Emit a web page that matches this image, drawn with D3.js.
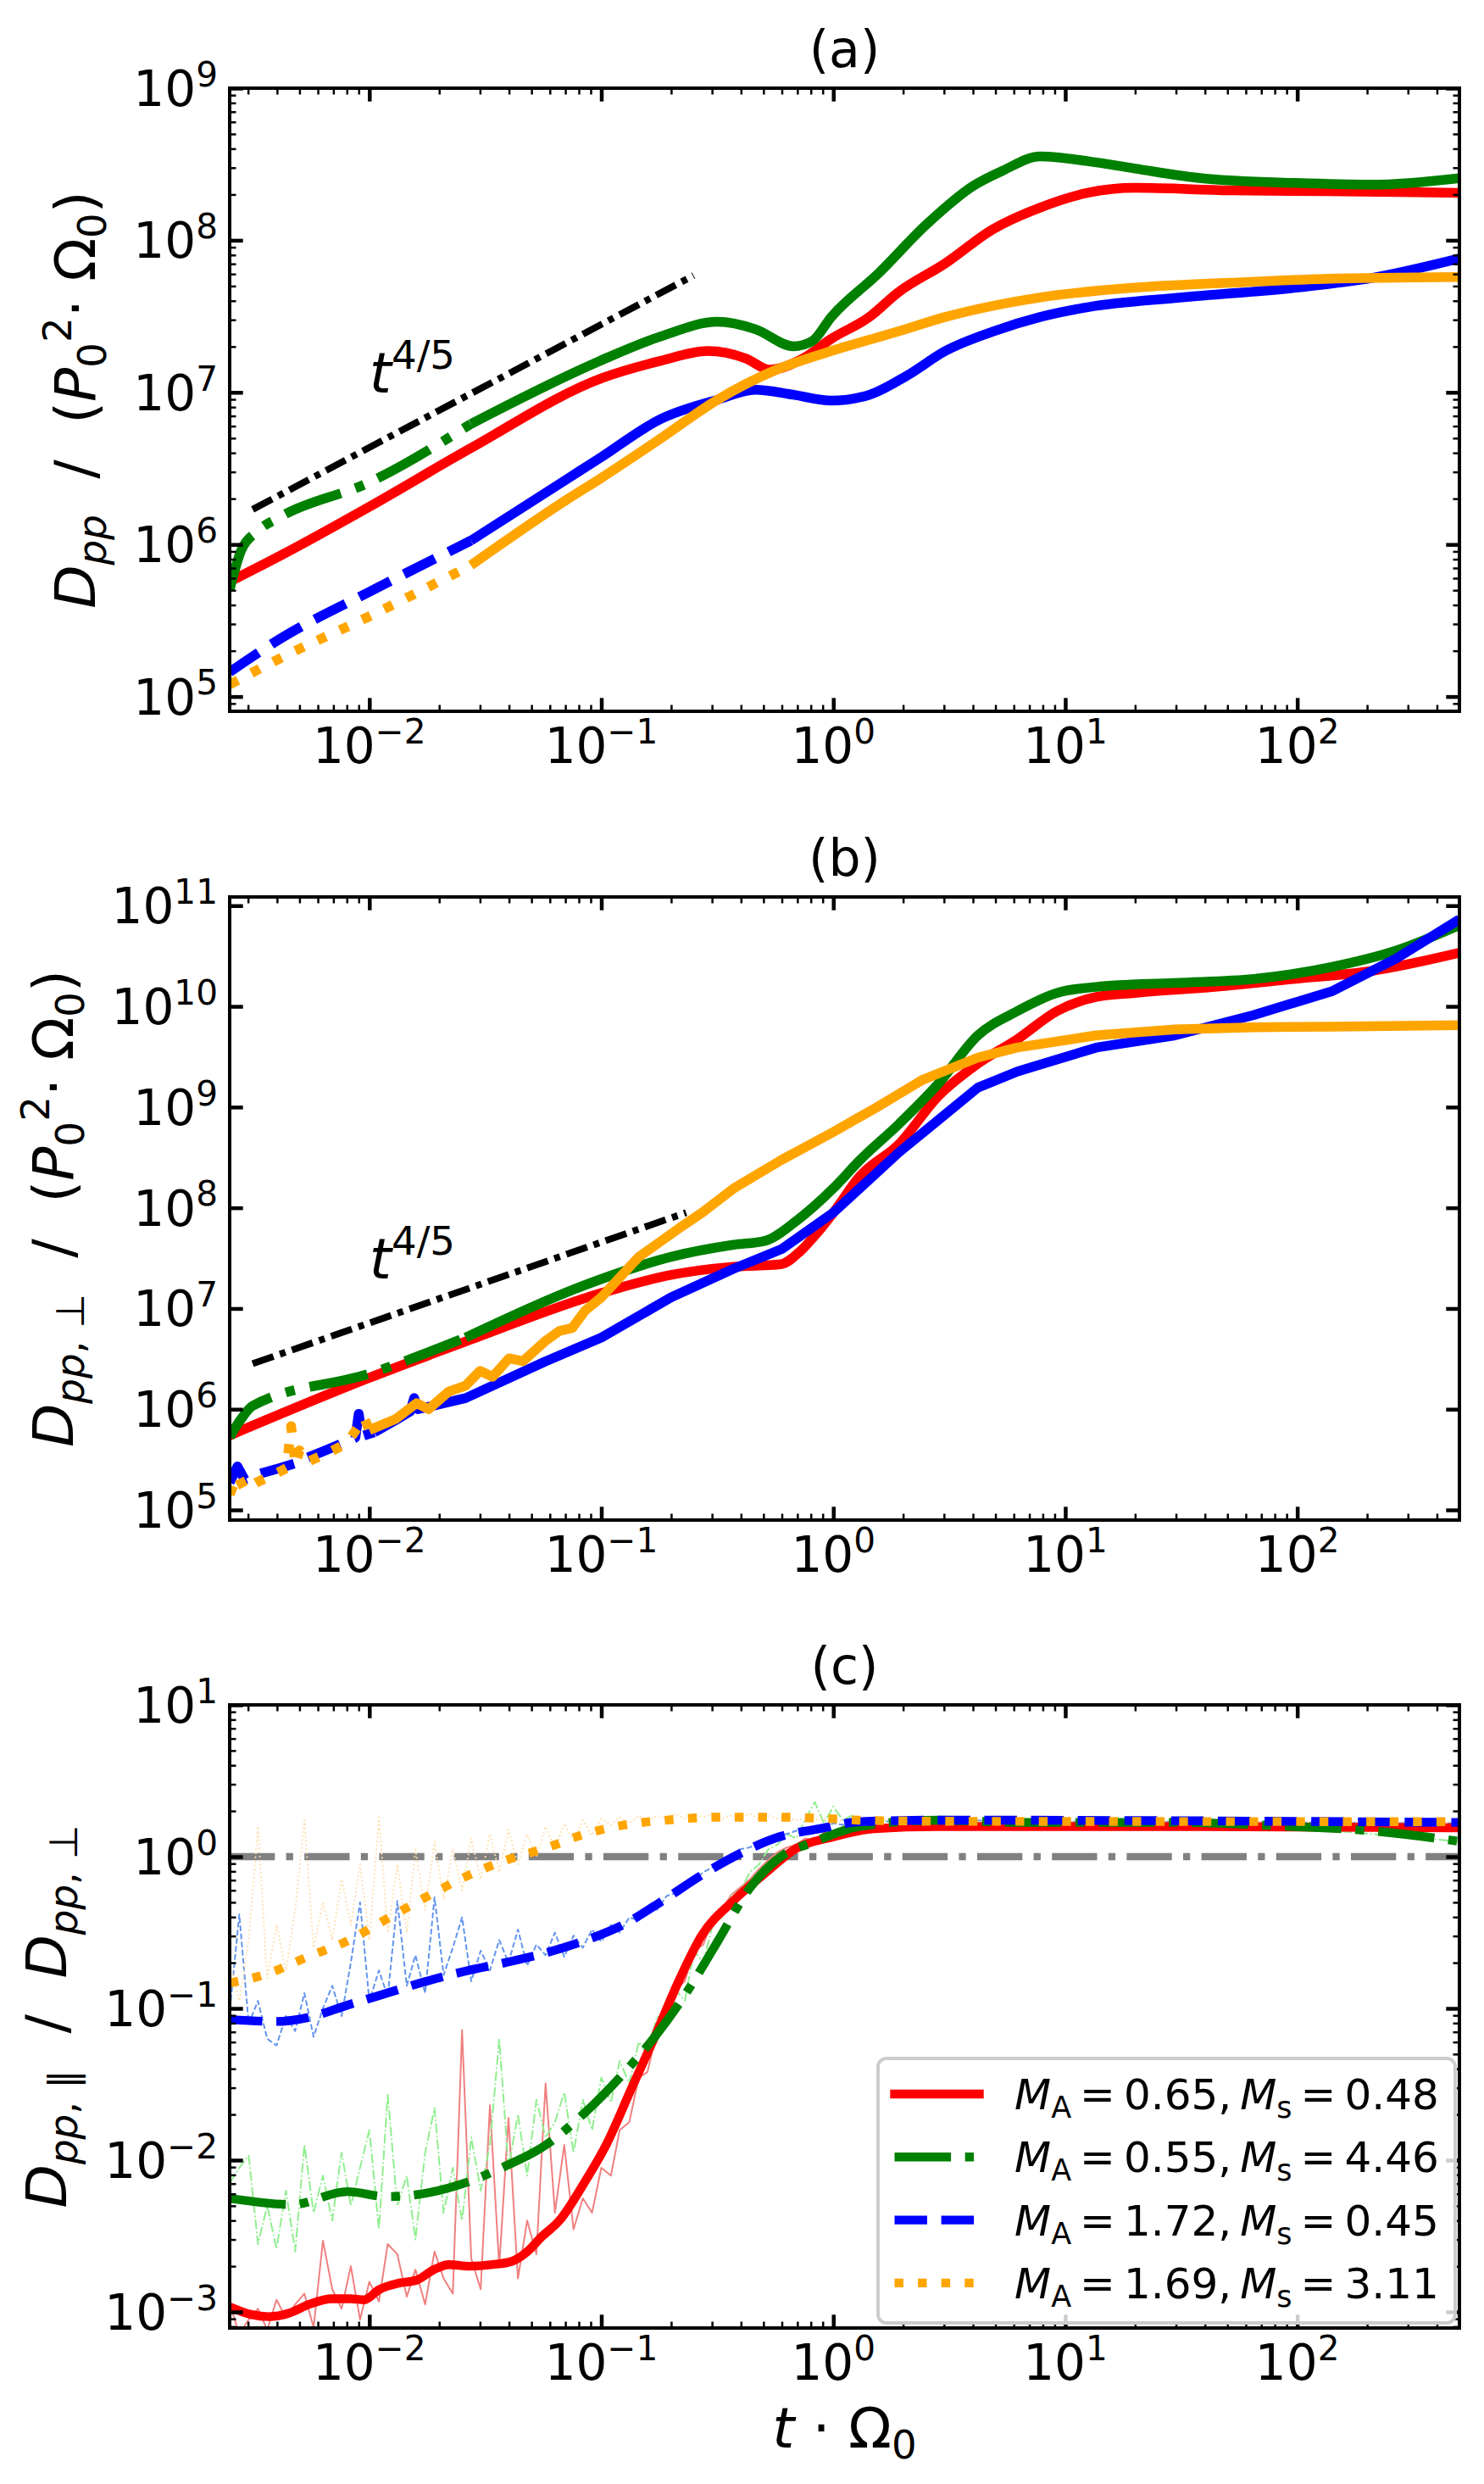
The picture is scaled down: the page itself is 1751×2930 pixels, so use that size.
<!DOCTYPE html>
<html>
<head>
<meta charset="utf-8">
<script src="https://cdn.jsdelivr.net/npm/d3@7/dist/d3.min.js"></script>
<style>
body{margin:0;background:#fff;}
text{font-family:"DejaVu Sans",sans-serif;white-space:pre;}
</style>
</head>
<body>
<div id="chart"></div>
<script>
// tick values
var xMajor = [1e-2, 1e-1, 1, 10, 100];
var yMajorA = [1e5, 1e6, 1e7, 1e8, 1e9];
var yMajorB = [1e5, 1e6, 1e7, 1e8, 1e9, 1e10, 1e11];
var yMajorC = [1e-3, 1e-2, 1e-1, 1, 10];

// legend: [M_A, M_s]
var machs = [['0.65', '0.48'], ['0.55', '4.46'], ['1.72', '0.45'], ['1.69', '3.11']];

// (a) D_pp, pairs [t, value]
var aRed = [[0.0025,5.7e5],[0.00417,8.5e5],[0.01,1.77e6],[0.0274,4.3e6],[0.102,1.25e7],[0.18,1.61e7],[0.288,1.87e7],[0.42,1.67e7],[0.532,1.41e7],[0.74,1.67e7],[0.98,2.25e7],[1.43,3.13e7],[1.9,4.53e7],[3.04,7.05e7],[4.87,1.18e8],[7.8,1.64e8],[12.5,2.05e8],[20,2.21e8],[51,2.13e8],[131,2.1e8],[500,2.05e8]];
var aGreen = [[0.0025,5.06e5],[0.0028,9.1e5],[0.00329,1.22e6],[0.00417,1.53e6],[0.01,2.56e6],[0.0274,6.2e6],[0.0986,1.61e7],[0.18,2.33e7],[0.317,2.91e7],[0.462,2.6e7],[0.673,2.01e7],[0.81,2.17e7],[0.98,3.13e7],[1.57,6.08e7],[2.52,1.27e8],[4.03,2.29e8],[5.35,2.86e8],[7.8,3.56e8],[12.5,3.31e8],[20,2.96e8],[38.6,2.56e8],[99,2.38e8],[210,2.32e8],[500,2.56e8]];
var aBlue = [[0.0025,1.45e5],[0.00417,2.42e5],[0.01,4.88e5],[0.0274,1.06e6],[0.0703,2.66e6],[0.0986,3.7e6],[0.18,6.67e6],[0.317,8.95e6],[0.462,1.04e7],[0.673,9.64e6],[0.98,8.83e6],[1.43,9.64e6],[2.08,1.29e7],[3.04,1.87e7],[4.87,2.51e7],[7.8,3.13e7],[12.5,3.63e7],[32,4.21e7],[99,4.88e7],[210,5.65e7],[500,7.59e7]];
var aOrange = [[0.0025,1.2e5],[0.00417,1.8e5],[0.01,3.37e5],[0.0274,7.3e5],[0.0703,1.95e6],[0.0986,2.7e6],[0.18,4.97e6],[0.317,8.95e6],[0.557,1.39e7],[0.98,1.87e7],[1.9,2.51e7],[3.04,3.13e7],[7.8,4.21e7],[20,4.88e7],[51,5.25e7],[131,5.57e7],[500,5.73e7]];
var aRef = [[0.00314,1.7e6],[0.25,5.87e7]];

// (b) D_pp,perp
var bRed = [[0.0025,5.5e5],[0.01,2.05e6],[0.026,4.7e6],[0.0998,1.42e7],[0.199,2.15e7],[0.372,2.6e7],[0.594,2.75e7],[0.72,3.7e7],[0.85,5.6e7],[1.0,8.95e7],[1.3,2.05e8],[1.92,4.29e8],[2.84,1.29e9],[4.2,2.7e9],[6.2,4.7e9],[9.2,8.95e9],[13.6,1.24e10],[20,1.36e10],[44,1.56e10],[96,1.87e10],[210,2.25e10],[500,3.4e10]];
var bGreen = [[0.0025,5.3e5],[0.0028,8.0e5],[0.00314,1.08e6],[0.01,2.25e6],[0.026,5.15e6],[0.0998,1.96e7],[0.199,3.25e7],[0.372,4.29e7],[0.508,4.7e7],[0.695,7.45e7],[1.0,1.56e8],[1.3,2.96e8],[1.92,6.8e8],[2.84,1.71e9],[4.2,5.15e9],[6.2,8.95e9],[9.2,1.36e10],[13.6,1.56e10],[29.7,1.71e10],[65,1.87e10],[142,2.47e10],[265,3.56e10],[500,6.4e10]];
var bBlue = [[0.0025,1.87e5],[0.0027,2.7e5],[0.0029,2.0e5],[0.0034,2.3e5],[0.0041,2.6e5],[0.0048,2.9e5],[0.0054,3.3e5],[0.0063,3.8e5],[0.0075,4.5e5],[0.0087,5.2e5],[0.009,9.0e5],[0.0093,5.4e5],[0.0105,5.9e5],[0.013,7.8e5],[0.015,9.5e5],[0.0156,1.29e6],[0.0162,1.0e6],[0.026,1.29e6],[0.057,2.96e6],[0.1,5.15e6],[0.2,1.29e7],[0.37,2.47e7],[0.6,3.9e7],[1.0,8.95e7],[1.3,1.56e8],[1.92,3.56e8],[2.84,7.45e8],[4.2,1.56e9],[6.2,2.25e9],[9.2,2.96e9],[13.6,3.9e9],[29.7,5.15e9],[65,8.2e9],[142,1.42e10],[265,2.96e10],[500,7.3e10]];
var bOrange = [[0.0025,1.42e5],[0.0027,2.2e5],[0.0029,1.6e5],[0.0033,1.9e5],[0.0038,2.2e5],[0.0044,2.6e5],[0.0046,6.8e5],[0.0048,2.8e5],[0.005,3.9e5],[0.0054,3.0e5],[0.0065,3.6e5],[0.008,4.6e5],[0.0095,8.2e5],[0.01,6.2e5],[0.013,8.0e5],[0.016,1.15e6],[0.018,1.0e6],[0.022,1.5e6],[0.026,1.71e6],[0.03,2.4e6],[0.034,2.1e6],[0.04,3.2e6],[0.046,3.0e6],[0.057,4.7e6],[0.066,6.0e6],[0.075,6.4e6],[0.085,9.5e6],[0.1,1.29e7],[0.145,3.25e7],[0.215,6.2e7],[0.272,8.95e7],[0.372,1.56e8],[0.594,2.96e8],[1.0,5.65e8],[1.52,9.8e8],[2.43,1.87e9],[4.2,3.1e9],[6.2,3.9e9],[13.6,5.15e9],[29.7,5.9e9],[65,6.2e9],[142,6.3e9],[500,6.5e9]];
var bRef = [[0.00314,2.83e6],[0.232,8.95e7]];

// (c) ratio, raw samples share one time grid
var rawT = [0.00251,0.00275,0.00302,0.00331,0.00363,0.00398,0.00437,0.00479,0.00525,0.00575,
  0.00631,0.00692,0.00759,0.00832,0.00912,0.0100,0.0110,0.0120,0.0132,0.0145,
  0.0158,0.0174,0.0191,0.0209,0.0229,0.0251,0.0275,0.0302,0.0331,0.0363,
  0.0398,0.0437,0.0479,0.0525,0.0575,0.0631,0.0692,0.0759,0.0832,0.0912,
  0.100,0.110,0.120,0.132,0.145,0.158,0.174,0.191,0.209,0.229,
  0.251,0.275,0.302,0.331,0.363,0.398,0.437,0.479,0.525,0.575,
  0.631,0.692,0.759,0.832,0.912,1.00,1.10,1.20,1.32,1.45,
  1.58,3.16,10,31.6,100,500];
var rawRed = [1.12e-3,7.1e-4,8.9e-4,1.05e-3,7.6e-4,1.2e-3,9.1e-4,1.12e-3,1.32e-3,7.9e-4,
  2.95e-3,1.41e-3,1.05e-3,2.0e-3,8.9e-4,1.58e-3,1.17e-3,2.8e-3,2.4e-3,1.26e-3,
  1.9e-3,1.12e-3,2.5e-3,1.66e-3,1.32e-3,7.2e-2,2.24e-3,1.41e-3,2.3e-2,2.0e-3,
  1.9e-2,1.66e-3,4.0e-3,2.4e-3,3.2e-2,4.5e-3,1.26e-2,3.5e-3,5.6e-3,4.5e-3,
  8.9e-3,7.9e-3,1.58e-2,1.78e-2,3.5e-2,3.8e-2,7.1e-2,7.6e-2,0.132,0.151,
  0.24,0.263,0.38,0.45,0.56,0.63,0.71,0.83,0.95,1.07,
  1.15,1.2,1.32,1.26,1.45,1.38,1.58,1.48,1.66,1.55,
  1.62,1.58,1.55,1.6,1.58,1.55];
var rawGreen = [7.1e-3,8.9e-3,1.07e-2,2.8e-3,5.0e-3,2.6e-3,6.3e-3,2.5e-3,1.26e-2,4.5e-3,
  7.9e-3,4.0e-3,1.12e-2,5.0e-3,8.9e-3,1.58e-2,3.5e-3,2.7e-2,5.0e-3,7.9e-3,
  3.0e-3,1.12e-2,2.2e-2,4.5e-3,8.9e-3,4.0e-3,1.41e-2,6.3e-3,1.26e-2,6.3e-2,
  8.9e-3,2.0e-2,7.9e-3,2.5e-2,1.41e-2,1.78e-2,2.8e-2,1.12e-2,2.5e-2,1.58e-2,
  3.5e-2,2.4e-2,4.5e-2,3.2e-2,6.0e-2,5.0e-2,8.9e-2,7.6e-2,0.132,0.112,
  0.24,0.2,0.355,0.4,0.56,0.6,0.79,0.89,1.12,1.2,
  1.41,1.32,1.78,2.29,1.66,2.14,1.74,1.86,1.66,1.78,
  1.7,1.74,1.7,1.66,1.55,1.26];
var rawBlue = [0.1,0.417,0.079,0.112,0.063,0.057,0.089,0.071,0.126,0.065,
  0.1,0.141,0.089,0.2,0.5,0.112,0.178,0.12,0.51,0.141,
  0.224,0.126,0.54,0.166,0.251,0.398,0.151,0.24,0.178,0.282,
  0.2,0.331,0.191,0.263,0.224,0.316,0.219,0.302,0.251,0.331,
  0.275,0.355,0.316,0.398,0.38,0.468,0.447,0.55,0.575,0.66,
  0.69,0.79,0.85,0.95,1.02,1.12,1.15,1.26,1.29,1.38,
  1.41,1.48,1.51,1.58,1.55,1.66,1.62,1.7,1.66,1.74,
  1.7,1.74,1.7,1.7,1.68,1.66];
var rawOrange = [0.2,0.112,0.282,1.58,0.158,0.355,0.178,0.447,1.74,0.251,
  0.5,0.282,0.71,0.355,0.89,0.282,1.82,0.316,0.89,0.316,
  1.12,0.447,1.26,0.525,1.12,0.6,1.32,0.71,1.41,0.79,
  1.51,0.89,1.41,1.0,1.58,1.12,1.66,1.26,1.74,1.38,
  1.78,1.62,1.82,1.66,1.86,1.74,1.86,1.78,1.91,1.78,
  1.86,1.82,1.91,1.78,1.86,1.82,1.91,1.78,1.86,1.78,
  1.82,1.74,1.78,1.74,1.78,1.7,1.74,1.7,1.74,1.7,
  1.74,1.7,1.7,1.7,1.7,1.7];
// smoothed ratios
var cRed = [[0.0025,1.08e-3],[0.0031,9.6e-4],[0.0037,9.3e-4],[0.0045,9.8e-4],[0.0055,1.12e-3],[0.0069,1.22e-3],[0.0083,1.22e-3],[0.0095,1.2e-3],[0.011,1.4e-3],[0.0135,1.55e-3],[0.016,1.62e-3],[0.019,1.9e-3],[0.022,2.05e-3],[0.027,2.0e-3],[0.034,2.05e-3],[0.041,2.15e-3],[0.048,2.5e-3],[0.055,3.1e-3],[0.066,4.0e-3],[0.084,7.0e-3],[0.106,1.3e-2],[0.134,2.9e-2],[0.17,6.5e-2],[0.215,0.15],[0.27,0.30],[0.37,0.51],[0.51,0.78],[0.69,1.13],[1.0,1.35],[1.5,1.53],[2.8,1.58],[30,1.58],[500,1.55]];
var cGreen = [[0.0025,5.6e-3],[0.00465,5.1e-3],[0.00804,6.2e-3],[0.0119,5.75e-3],[0.0163,5.95e-3],[0.026,7.1e-3],[0.0384,9.1e-3],[0.0568,1.24e-2],[0.0839,2.02e-2],[0.124,3.7e-2],[0.17,6.5e-2],[0.232,0.126],[0.318,0.278],[0.435,0.617],[0.594,1.0],[0.813,1.24],[1.3,1.58],[2.84,1.74],[6.2,1.68],[29.5,1.68],[95.5,1.58],[209,1.48],[500,1.26]];
var cBlue = [[0.0025,8.45e-2],[0.00397,8.2e-2],[0.00543,8.7e-2],[0.00804,0.105],[0.0119,0.126],[0.0176,0.151],[0.026,0.176],[0.0384,0.2],[0.0568,0.231],[0.0839,0.278],[0.124,0.355],[0.184,0.513],[0.272,0.759],[0.402,1.06],[0.594,1.36],[0.879,1.53],[1.3,1.7],[2.84,1.74],[500,1.68]];
var cOrange = [[0.0025,0.147],[0.00367,0.17],[0.00543,0.219],[0.00804,0.278],[0.0119,0.389],[0.0176,0.543],[0.026,0.738],[0.0384,0.942],[0.0568,1.13],[0.0839,1.4],[0.124,1.61],[0.199,1.75],[0.318,1.82],[0.594,1.82],[0.951,1.78],[1.3,1.74],[2.84,1.71],[500,1.7]];
var cUnity = [[0.0025,1],[500,1]];

var W = 1751, H = 2930, X0 = 271, X1 = 1722;
var colors = {red: '#ff0000', green: '#008000', blue: '#0000ff', orange: '#ffa500'};
var rawColors = {red: '#f08080', green: '#90ee90', blue: '#6495ed', orange: '#ffdead'};

var svg = d3.select('#chart').append('svg').attr('width', W).attr('height', H);
svg.append('rect').attr('width', W).attr('height', H).attr('fill', '#fff');
var defs = svg.append('defs');

var x = d3.scaleLog().domain([0.0025, 500]).range([X0, X1]);

// rich text with italic / sub / sup pieces
function richText(sel, parts, size, supK) {
    var cur = 0;
    parts.forEach(function (p) {
        var s = p[1] || '';
        var shift = 0, fs = size;
        if (s.indexOf('sub') >= 0) { shift = 0.2 * size; fs = 0.7 * size; }
        if (s.indexOf('sup') >= 0) { shift = -(supK || 0.42) * size; fs = 0.7 * size; }
        var ts = sel.append('tspan').attr('font-size', fs).attr('dy', shift - cur).text(p[0]);
        if (s.indexOf('i') === 0) ts.attr('font-style', 'italic');
        cur = shift;
    });
    return sel;
}

function expParts(v) {
    var e = Math.round(Math.log10(v));
    return [['10'], [(e < 0 ? '\u2212' : '') + Math.abs(e), 'sup']];
}

// minor ticks 2..9 x 10^n
function minorTicks(dom) {
    var out = [];
    for (var n = Math.floor(Math.log10(dom[0])); n <= Math.ceil(Math.log10(dom[1])); n++) {
        for (var k = 2; k < 10; k++) {
            var v = k * Math.pow(10, n);
            if (v >= dom[0] && v <= dom[1]) out.push(v);
        }
    }
    return out;
}

function tickAxis(g, axisFn, scale, vals, len, width, tr) {
    var a = g.append('g').attr('transform', tr)
        .call(axisFn(scale).tickValues(vals).tickSize(-len).tickFormat(''));
    a.select('.domain').remove();
    a.selectAll('line').attr('stroke', '#000').attr('stroke-width', width);
}

function drawAxes(g, p, y) {
    var xMin = minorTicks(x.domain());
    [[d3.axisBottom, p.bottom], [d3.axisTop, p.top]].forEach(function (d) {
        tickAxis(g, d[0], x, xMajor, 15.7, 4.5, 'translate(0,' + d[1] + ')');
        tickAxis(g, d[0], x, xMin, 7.5, 2.5, 'translate(0,' + d[1] + ')');
    });
    var yMin = p.yMinor ? minorTicks(y.domain()) : [];
    [[d3.axisLeft, X0], [d3.axisRight, X1]].forEach(function (d) {
        tickAxis(g, d[0], y, p.yMajor, 15.7, 4.5, 'translate(' + d[1] + ',0)');
        if (yMin.length) tickAxis(g, d[0], y, yMin, 7.5, 2.5, 'translate(' + d[1] + ',0)');
    });
    g.append('rect').attr('x', X0).attr('y', p.top).attr('width', X1 - X0).attr('height', p.bottom - p.top)
        .attr('fill', 'none').attr('stroke', '#000').attr('stroke-width', 4);

    // tick labels
    xMajor.forEach(function (v) {
        richText(g.append('text').attr('x', x(v)).attr('y', p.bottom + 61).attr('text-anchor', 'middle'),
            expParts(v), 58, 0.4);
    });
    var minLeft = X0;
    p.yMajor.forEach(function (v) {
        var t = richText(g.append('text').attr('x', 257).attr('y', y(v) + 21).attr('text-anchor', 'end'),
            expParts(v), 58, 0.4);
        minLeft = Math.min(minLeft, t.node().getBBox().x);
    });

    // axis label
    var lx = minLeft - 45.5, ly = (p.top + p.bottom) / 2;
    richText(g.append('text').attr('text-anchor', 'middle')
        .attr('transform', 'translate(' + lx + ',' + ly + ')rotate(-90)'), p.ylabel, 66.7);

    g.append('text').attr('x', (X0 + X1) / 2).attr('y', p.top - 25).attr('text-anchor', 'middle')
        .attr('font-size', 60).text(p.title);
}

function lineGen(y, curve) {
    return d3.line().x(function (d) { return x(d[0]); }).y(function (d) { return y(d[1]); })
        .curve(curve || d3.curveMonotoneX);
}

function path(g, data, y, color, width, dash, curve) {
    var pth = g.append('path').datum(data).attr('d', lineGen(y, curve))
        .attr('fill', 'none').attr('stroke', color).attr('stroke-width', width)
        .attr('stroke-linejoin', 'round').attr('stroke-linecap', 'butt');
    if (dash) pth.attr('stroke-dasharray', dash);
    return pth;
}

// early part keeps its dash pattern, noisy late part looks solid
function splitPath(g, data, y, color, width, dash, cut, curve) {
    if (!dash) { path(g, data, y, color, width, null, curve); return; }
    var idx = data.findIndex(function (d) { return d[0] > cut; });
    path(g, data.slice(0, idx), y, color, width, dash, curve);
    path(g, data.slice(idx - 1), y, color, width, null, curve);
}

var dash11 = {green: '70 18 11 18', blue: '41 18', orange: '11 18'};
var dash10 = {green: '66.6 16.6 10.4 16.6', blue: '38.5 16.6', orange: '10.4 17.2'};
var dashRaw = {green: '11.5 2.9 1.8 2.9', blue: '6.7 2.9', orange: '1.8 3'};

var panels = [
    {id: 'a', title: '(a)', top: 104, bottom: 839, dom: [8.0e4, 1e9], yMajor: yMajorA, yMinor: true, cut: 0.03,
        ylabel: [['D', 'i'], ['pp', 'isub'], ['  /  '], ['('], ['P', 'i'], ['0', 'sub'], ['2', 'sup'], ['\u22c5 '], ['\u03a9'], ['0', 'sub'], [')']],
        series: {red: aRed, green: aGreen, blue: aBlue, orange: aOrange}, ref: aRef, refText: [0.01, 1e7]},
    {id: 'b', title: '(b)', top: 1058, bottom: 1793, dom: [7.93e4, 1.22e11], yMajor: yMajorB, yMinor: false, cut: 0.012,
        noisy: true,
        ylabel: [['D', 'i'], ['pp', 'isub'], [', \u22a5', 'sub'], ['  /  '], ['('], ['P', 'i'], ['0', 'sub'], ['2', 'sup'], ['\u22c5 '], ['\u03a9'], ['0', 'sub'], [')']],
        series: {red: bRed, green: bGreen, blue: bBlue, orange: bOrange}, ref: bRef, refText: [0.01, 2e7]},
    {id: 'c', title: '(c)', top: 2011, bottom: 2746, dom: [7.83e-4, 10], yMajor: yMajorC, yMinor: true,
        ylabel: [['D', 'i'], ['pp', 'isub'], [', \u2225', 'sub'], ['  /  '], ['D', 'i'], ['pp', 'isub'], [', \u22a5', 'sub']]}
];

panels.forEach(function (p) {
    var y = d3.scaleLog().domain(p.dom).range([p.bottom, p.top]);
    var g = svg.append('g').attr('class', 'panel-' + p.id);
    defs.append('clipPath').attr('id', 'clip' + p.id).append('rect')
        .attr('x', X0).attr('y', p.top).attr('width', X1 - X0).attr('height', p.bottom - p.top);
    var plot = g.append('g').attr('clip-path', 'url(#clip' + p.id + ')');

    if (p.series) {
        ['red', 'green', 'blue', 'orange'].forEach(function (k) {
            var curve = (p.noisy && (k === 'blue' || k === 'orange')) ? d3.curveLinear : null;
            var cut = k === 'green' ? 0.05 : p.cut;
            splitPath(plot, p.series[k], y, colors[k], 11.5, dash11[k], cut, curve);
        });
        path(plot, p.ref, y, '#000', 8, '26 8 7 8', d3.curveLinear);
        richText(g.append('text').attr('x', x(p.refText[0])).attr('y', y(p.refText[1])),
            [['t', 'i'], ['4/5', 'sup']], 66.7);
    } else {
        path(plot, cUnity, y, '#808080', 8.3, '53.3 13.3 8.3 13.3', d3.curveLinear);
        var raws = {red: rawRed, green: rawGreen, blue: rawBlue, orange: rawOrange};
        ['red', 'green', 'blue', 'orange'].forEach(function (k) {
            var pts = rawT.map(function (t, i) { return [t, raws[k][i]]; });
            path(plot, pts, y, rawColors[k], 2, dashRaw[k], d3.curveLinear);
        });
        var smooth = {red: cRed, green: cGreen, blue: cBlue, orange: cOrange};
        ['red', 'green', 'blue', 'orange'].forEach(function (k) {
            path(plot, smooth[k], y, colors[k], 10.4, dash10[k]);
        });
    }

    drawAxes(g, p, y);

    if (p.id === 'c') {
        richText(g.append('text').attr('x', (X0 + X1) / 2).attr('y', 2887).attr('text-anchor', 'middle'),
            [['t', 'i'], [' \u22c5 '], ['\u03a9'], ['0', 'sub']], 66.7);

        // legend
        var lg = g.append('g');
        lg.append('rect').attr('x', 1036).attr('y', 2428).attr('width', 681).attr('height', 312)
            .attr('rx', 10).attr('fill', '#fff').attr('fill-opacity', 0.8)
            .attr('stroke', '#cccccc').attr('stroke-width', 4);
        ['red', 'green', 'blue', 'orange'].forEach(function (k, i) {
            var cy = 2470 + i * 74.3;
            var h = lg.append('line').attr('x1', 1055.5).attr('x2', 1155.5).attr('y1', cy).attr('y2', cy)
                .attr('stroke', colors[k]).attr('stroke-width', 10.4)
                .attr('stroke-linecap', k === 'red' ? 'square' : 'butt');
            if (dash10[k]) h.attr('stroke-dasharray', dash10[k]);
            var t = richText(lg.append('text').attr('x', 1197).attr('y', cy + 18),
                [['M', 'i'], ['A', 'sub'], ['\u2009=\u2009' + machs[i][0] + ',\u2009'], ['M', 'i'], ['s', 'sub'], ['\u2009=\u2009' + machs[i][1]]], 50);
            // keep the text inside the box like the reference
            var bw = t.node().getBBox().width;
            if (bw > 502) t.attr('textLength', 500).attr('lengthAdjust', 'spacingAndGlyphs');
        });
    }
});
</script>
</body>
</html>
